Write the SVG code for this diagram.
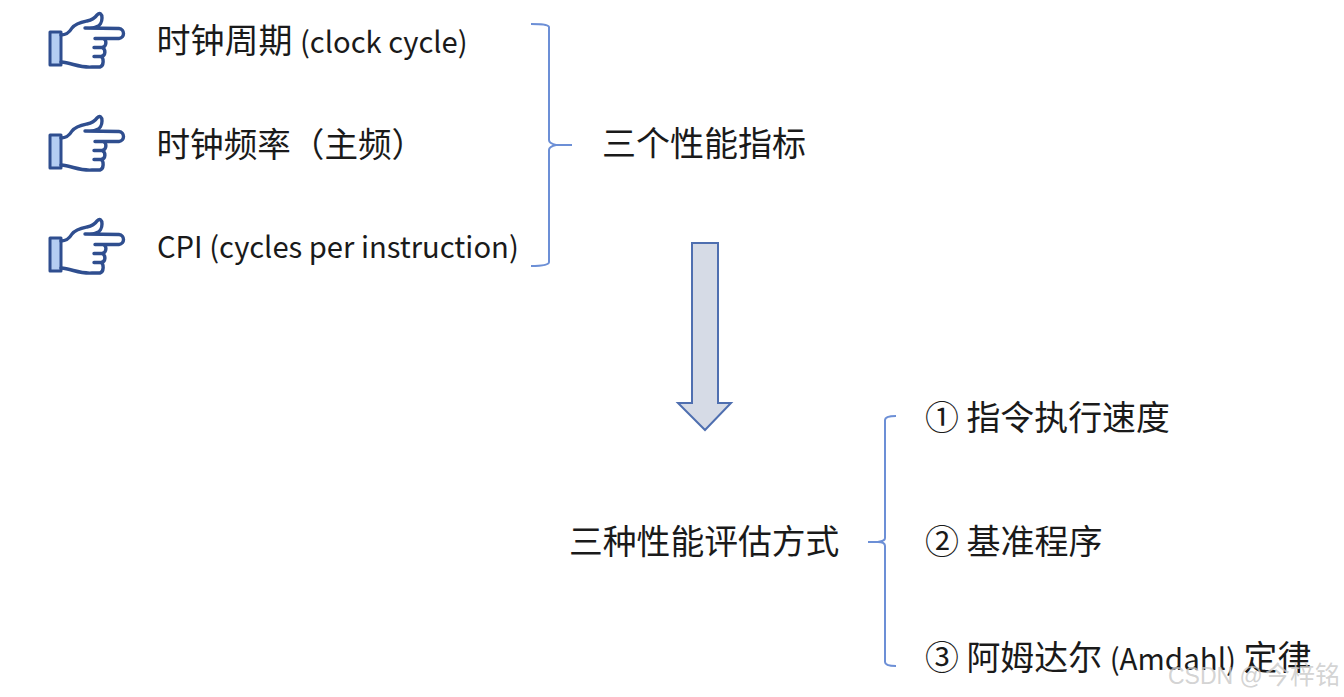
<svg xmlns="http://www.w3.org/2000/svg" width="1344" height="697" viewBox="0 0 1344 697">
<style>
.t{font-family:"Noto Sans CJK SC","Open Sans","Noto Sans",sans-serif;fill:#1a1a1a}
.z{font-size:34px}
.l{font-size:29.2px}
.a{font-size:29.5px}
.b{fill:none;stroke:#6c8fd6;stroke-width:2}
.h{fill:none;stroke:#2f4e8f;stroke-width:3.4;stroke-linejoin:round;stroke-linecap:round}
.c{fill:#b4cdf2;stroke:#2f4e8f;stroke-width:3;stroke-linejoin:round}
</style>
<defs>
<g id="hand">
<rect x="50" y="32" width="11" height="33" class="c"/>
<path d="M61 35 C66 35 69 33 72 28 C76 23 82 22 87 21 C92 20 95 18 97 15 C100 12 102 14 102 18 C102 22 100 26 96 27 C92 29 88 28 85 28 M85 28 L119 28.5 C125 29 125 38 119 38.5 L95 38.5 M95 38.5 L103 38.5 C107 39 107 47 102 47.5 L94 47.5 M102 47.5 C106 49 106 56 101 56.5 L94 56.5 M101 56.5 C104 58 104 66 100 67 L92 67 C80 68 72 63 61 62" class="h"/>
</g>
</defs>
<rect width="1344" height="697" fill="#fff"/>
<g id="node-clock-cycle"><use href="#hand"/><text class="t z" x="156.5" y="53">时钟周期 <tspan class="l" x="300">(clock cycle)</tspan></text></g>
<g id="node-clock-rate"><use href="#hand" y="103"/><text class="t" x="156.5" y="157" style="font-size:33.6px">时钟频率（主频）</text></g>
<g id="node-cpi"><use href="#hand" y="206"/><text class="t l" x="157" y="258">CPI (cycles per instruction)</text></g>
<g id="node-metrics"><text class="t z" x="602" y="156">三个性能指标</text></g>
<g id="node-methods"><text class="t" x="569" y="554" style="font-size:33.8px">三种性能评估方式</text></g>
<g id="node-speed"><text class="t" x="925" y="430" style="font-size:33.9px">① 指令执行速度</text></g>
<g id="node-benchmark"><text class="t z" x="925" y="554">② 基准程序</text></g>
<g id="node-amdahl"><text class="t" x="925" y="670" style="font-size:33.9px">③ 阿姆达尔 <tspan class="a">(Amdahl)</tspan> 定律</text></g>
<g id="connectors">
<path class="b" d="M531 24 C540 24 548 24 549 27 L549 140 C549 143 552 144 556 145 L572 145 L556 145 C552 146 549 147 549 150 L549 262 C549 265 540 266 531 266"/>
<path class="b" d="M896 416 C888 416 885 417 885 420 L885 538 C885 541 882 541 878 542 L868 542 L878 542 C882 542 885 543 885 546 L885 662 C885 665 888 666 896 666"/>
<path d="M692 243 H718 V403 H731 L705 430 L678 403 H692 Z" fill="#d6dbe6" stroke="#4f6fb0" stroke-width="2"/>
</g>
<text x="1168" y="684" style="font-family:'Liberation Sans','Noto Sans CJK SC',sans-serif;font-size:23px" fill="#c8c8c8" fill-opacity=".8">CSDN @<tspan x="1265" style="font-size:25px">今梓铭</tspan></text>
</svg>
